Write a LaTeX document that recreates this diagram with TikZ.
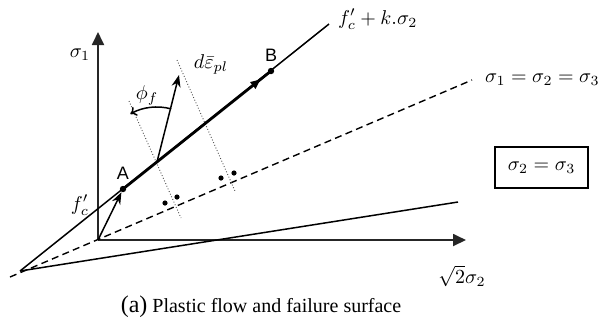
\documentclass[tikz,border=0pt]{standalone}
\usepackage{fontspec}
\setmainfont{Liberation Serif}
\newfontfamily\ptfont{Liberation Sans}
\usetikzlibrary{arrows.meta, positioning, decorations.markings}
\tikzset{
  axisline/.style={-{Triangle[length=6.5pt, width=6pt]}, line width=0.9pt, black!85},
  surfline/.style={line width=0.75pt},
  boldvec/.style={line width=1.4pt, postaction={decorate},
    decoration={markings, mark=at position 0.93 with {\arrow{Triangle[length=5pt, width=4pt]}}}},
  hydroline/.style={line width=0.7pt, dash pattern=on 3.5pt off 2.2pt},
  planeline/.style={densely dotted, line width=0.45pt, black!70},
  flowvec/.style={-{Stealth[length=6pt, width=4.5pt]}, line width=0.75pt},
  anglearc/.style={-{To[length=3pt, width=5pt]}, line width=0.75pt},
  ptdot/.style={circle, fill=black, inner sep=0pt, minimum size=3.2pt},
  rdot/.style={circle, fill=black, inner sep=0pt, minimum size=2.6pt},
  ptlabel/.style={font=\ptfont\small, inner sep=1pt},
  eqbox/.style={rectangle, draw, line width=0.6pt, minimum width=46.5pt,
                minimum height=20.5pt, inner sep=2pt},
}
\begin{document}
\begin{tikzpicture}[x=0.5pt, y=-0.5pt, font=\normalsize]
  \useasboundingbox (0,0) rectangle (599,329);
  \coordinate (O) at (98,240);
  \coordinate (P) at (20,271);
  \coordinate (Y) at (98,32);
  \coordinate (X) at (466,240);
  \coordinate (D) at (10,277);
  \coordinate (H) at (472,80);
  \coordinate (E) at (329,24);
  \coordinate (T) at (458,202);
  \coordinate (F) at (98,209);
  \coordinate (S) at (157,162);
  \coordinate (Q) at (179,75);
  \coordinate (p1a) at (129,101);
  \coordinate (p1b) at (181,218);
  \coordinate (p2a) at (177,60);
  \coordinate (p2b) at (235,191);
  \node[ptdot] (A) at (123,189) {};
  \node[ptdot] (B) at (271,71) {};

  \draw[axisline] (O) -- (Y);
  \draw[axisline] (O) -- (X);
  \draw[hydroline] (D) -- (H);
  \draw[surfline] (P) -- (E);
  \draw[surfline] (P) -- (T);
  \draw[planeline] (p1a) -- (p1b);
  \draw[planeline] (p2a) -- (p2b);
  \draw[boldvec] (A.center) -- (B.center);
  \draw[flowvec] (O) -- (A);
  \draw[flowvec] (S) -- (Q);
  \draw[anglearc] ([shift={(-75:55)}]S) arc[start angle=-75, end angle=-119, radius=55];
  \node[rdot] (r1a) at (165,203) {};
  \node[rdot] (r1b) at (177,197) {};
  \node[rdot] (r2a) at (221,178) {};
  \node[rdot] (r2b) at (234,173) {};

  \node (s1) at (80,55) {$\sigma_1$};
  \node (s2) at (462,276) {$\sqrt{2}\sigma_2$};
  \node[ptlabel, above=2pt of A] (labA) {A};
  \node[ptlabel, above=2pt of B] (labB) {B};
  \node[left=1pt of F, yshift=2pt] (labF) {$f'_c$};
  \node[right=1pt of E, yshift=2.5pt] (labE) {$f'_c+k.\sigma_2$};
  \node[right=3pt of H] (labH) {$\sigma_1=\sigma_2=\sigma_3$};
  \node (phi) at (147,95) {$\phi_f$};
  \node[inner sep=1pt] (deps) at (211,64) {$d\bar{\varepsilon}_{pl}$};
  \node[eqbox] (box) at (541.5,167.5) {$\sigma_2=\sigma_3$};
  \node (cap) at (261,307) {{\large(a)} Plastic flow and failure surface};
\end{tikzpicture}
\end{document}
